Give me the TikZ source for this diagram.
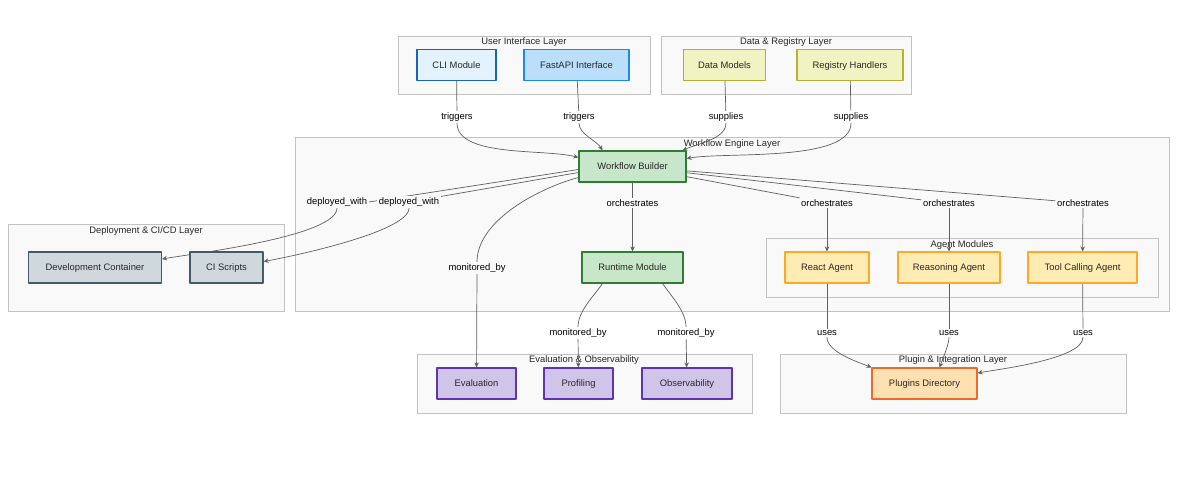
\documentclass[tikz,border=0pt]{standalone}
\usepackage{fontspec}
\setmainfont{Liberation Sans}
\usetikzlibrary{arrows.meta}
\pgfdeclarelayer{back}
\pgfdeclarelayer{edges}
\pgfsetlayers{back,edges,main}
\begin{document}
\begin{tikzpicture}[x=1pt, y=-1pt, line cap=round, line join=round,
    box/.style={draw, line width=1.1pt, minimum height=31pt, inner sep=2pt,
      text height=6.8pt, text depth=0.8pt,
      text=txtgray, font=\fontsize{9.4}{11}\selectfont},
    cluster/.style={draw=clgray, fill=clfill, line width=0.7pt},
    cltitle/.style={text=txtgray, font=\fontsize{9.4}{11}\selectfont},
    lbl/.style={fill=white, inner sep=1.5pt, text=black, font=\fontsize{9.4}{11}\selectfont},
    lblin/.style={lbl, fill=clfill},
    line/.style={draw=edgegray, line width=0.7pt},
    arr/.style={line, -{Stealth[length=5pt, width=4.5pt]}}]
  \definecolor{txtgray}{RGB}{40,40,40}
  \definecolor{clgray}{RGB}{195,195,195}
  \definecolor{clfill}{RGB}{249,249,249}
  \definecolor{edgegray}{RGB}{95,95,95}
  \definecolor{cliblue}{HTML}{E3F2FD}
  \definecolor{cliline}{HTML}{1565C0}
  \definecolor{apiblue}{HTML}{BBDEFB}
  \definecolor{apiline}{HTML}{1E88E5}
  \definecolor{datafill}{HTML}{F0F4C3}
  \definecolor{dataline}{HTML}{AFB42B}
  \definecolor{engfill}{HTML}{C8E6C9}
  \definecolor{engline}{HTML}{2E7D32}
  \definecolor{agfill}{HTML}{FFECB3}
  \definecolor{agline}{HTML}{FFA726}
  \definecolor{depfill}{HTML}{CFD8DC}
  \definecolor{depline}{HTML}{455A64}
  \definecolor{evfill}{HTML}{D1C4E9}
  \definecolor{evline}{HTML}{5E35B1}
  \definecolor{plfill}{HTML}{FFE0B2}
  \definecolor{plline}{HTML}{EE6A2A}
  \useasboundingbox (0,0) rectangle (1196,480);

  \begin{pgfonlayer}{back}
    \draw[cluster] (398,36) rectangle (650,94);
    \node[cltitle] at (524,42) {User Interface Layer};
    \draw[cluster] (661,36) rectangle (911,94);
    \node[cltitle] at (786,42) {Data \& Registry Layer};
    \draw[cluster] (295,137) rectangle (1169,311);
    \node[cltitle] at (732,144) {Workflow Engine Layer};
    \draw[cluster] (766,238) rectangle (1158,297);
    \node[cltitle] at (962,245) {Agent Modules};
    \draw[cluster] (8,224) rectangle (284,311);
    \node[cltitle] at (146,231) {Deployment \& CI/CD Layer};
    \draw[cluster] (417,354) rectangle (752,413);
    \node[cltitle] at (584,360) {Evaluation \& Observability};
    \draw[cluster] (780,354) rectangle (1126,413);
    \node[cltitle] at (953,360) {Plugin \& Integration Layer};
  \end{pgfonlayer}

  \node[box, fill=cliblue, draw=cliline, minimum width=79pt] (cli) at (456.5,65) {CLI Module};
  \node[box, fill=apiblue, draw=apiline, minimum width=105pt] (fastapi) at (576.5,65) {FastAPI Interface};
  \node[box, fill=datafill, draw=dataline, minimum width=82pt] (models) at (724.5,65) {Data Models};
  \node[box, fill=datafill, draw=dataline, minimum width=106pt] (registry) at (850,65) {Registry Handlers};
  \node[box, fill=engfill, draw=engline, minimum width=107pt] (builder) at (632.5,166.5) {Workflow Builder};
  \node[box, fill=engfill, draw=engline, minimum width=101pt] (runtime) at (632.5,267.5) {Runtime Module};
  \node[box, fill=agfill, draw=agline, minimum width=84pt] (react) at (827,267.5) {React Agent};
  \node[box, fill=agfill, draw=agline, minimum width=102pt] (reasoning) at (949,267.5) {Reasoning Agent};
  \node[box, fill=agfill, draw=agline, minimum width=109pt] (toolcall) at (1082.5,267.5) {Tool Calling Agent};
  \node[box, fill=depfill, draw=depline, minimum width=133pt] (devcont) at (95,267.5) {Development Container};
  \node[box, fill=depfill, draw=depline, minimum width=73pt] (ciscripts) at (226.5,267.5) {CI Scripts};
  \node[box, fill=evfill, draw=evline, minimum width=79pt] (evaluation) at (476.5,383.5) {Evaluation};
  \node[box, fill=evfill, draw=evline, minimum width=69pt] (profiling) at (578.5,383.5) {Profiling};
  \node[box, fill=evfill, draw=evline, minimum width=90pt] (observ) at (687,383.5) {Observability};
  \node[box, fill=plfill, draw=plline, minimum width=105pt] (plugins) at (924.5,383.5) {Plugins Directory};

  % edge labels
  \node[lbl] (trig1) at (457,117) {triggers};
  \node[lbl] (trig2) at (579,117) {triggers};
  \node[lbl] (sup1) at (726,117) {supplies};
  \node[lbl] (sup2) at (851,117) {supplies};
  \node[lblin] (dep1) at (337,202) {deployed\_with};
  \node[lblin] (dep2) at (409,202) {deployed\_with};
  \node[lblin] (mon1) at (477,268) {monitored\_by};
  \node[lblin] (orch1) at (632.5,203) {orchestrates};
  \node[lblin] (orch2) at (827,203) {orchestrates};
  \node[lblin] (orch3) at (949,203) {orchestrates};
  \node[lblin] (orch4) at (1083,203) {orchestrates};
  \node[lbl] (mon2) at (578,333) {monitored\_by};
  \node[lbl] (mon3) at (686,333) {monitored\_by};
  \node[lbl] (uses1) at (827,333) {uses};
  \node[lbl] (uses2) at (949,333) {uses};
  \node[lbl] (uses3) at (1083,333) {uses};

  \begin{pgfonlayer}{edges}
    \draw[line] (cli) -- (trig1);
    \draw[arr] (trig1) to[out=-90, in=165, looseness=0.7] ([yshift=9pt]builder.west);
    \draw[line] (fastapi) -- (trig2);
    \draw[arr] (trig2) to[out=-90, in=120, looseness=0.8] ([xshift=-30pt]builder.north);
    \draw[line] (models) -- (sup1);
    \draw[arr] (sup1) to[out=-90, in=25, looseness=0.8] ([xshift=50pt]builder.north);
    \draw[line] (registry) -- (sup2);
    \draw[arr] (sup2) to[out=-90, in=10, looseness=0.6] ([yshift=8pt]builder.east);

    \draw[line] ([yshift=-3pt]builder.west) -- (dep1.east);
    \draw[arr] (dep1) to[out=-90, in=10, looseness=0.4] ([yshift=8.5pt]devcont.east);
    \draw[line] ([yshift=-6pt]builder.west) -- (dep2);
    \draw[arr] (dep2) to[out=-90, in=10, looseness=0.4] ([yshift=6pt]ciscripts.east);
    \draw[line] ([yshift=-11pt]builder.west) to[out=195, in=90, looseness=0.8] (mon1);
    \draw[arr] (mon1) -- (evaluation);

    \draw[line] (builder) -- (orch1);
    \draw[arr] (orch1) -- (runtime);
    \draw[line] (builder) -- (orch2);
    \draw[arr] (orch2) -- (react);
    \draw[line] (builder) -- (orch3);
    \draw[arr] (orch3) -- (reasoning);
    \draw[line] (builder) -- (orch4);
    \draw[arr] (orch4) -- (toolcall);

    \draw[line] ([xshift=-30pt]runtime.south) to[out=235, in=90, looseness=0.8] (mon2);
    \draw[arr] (mon2) -- (profiling);
    \draw[line] ([xshift=30pt]runtime.south) to[out=-55, in=90, looseness=0.8] (mon3);
    \draw[arr] (mon3) -- (observ);

    \draw[line] (react) -- (uses1);
    \draw[arr] (uses1) to[out=-90, in=158, looseness=0.7] (plugins.north west);
    \draw[line] (reasoning) -- (uses2);
    \draw[arr] (uses2) to[out=-90, in=70, looseness=0.6] ([xshift=15pt]plugins.north);
    \draw[line] (toolcall) -- (uses3);
    \draw[arr] (uses3) to[out=-90, in=10, looseness=0.5] ([yshift=10.5pt]plugins.east);
  \end{pgfonlayer}
\end{tikzpicture}
\end{document}
